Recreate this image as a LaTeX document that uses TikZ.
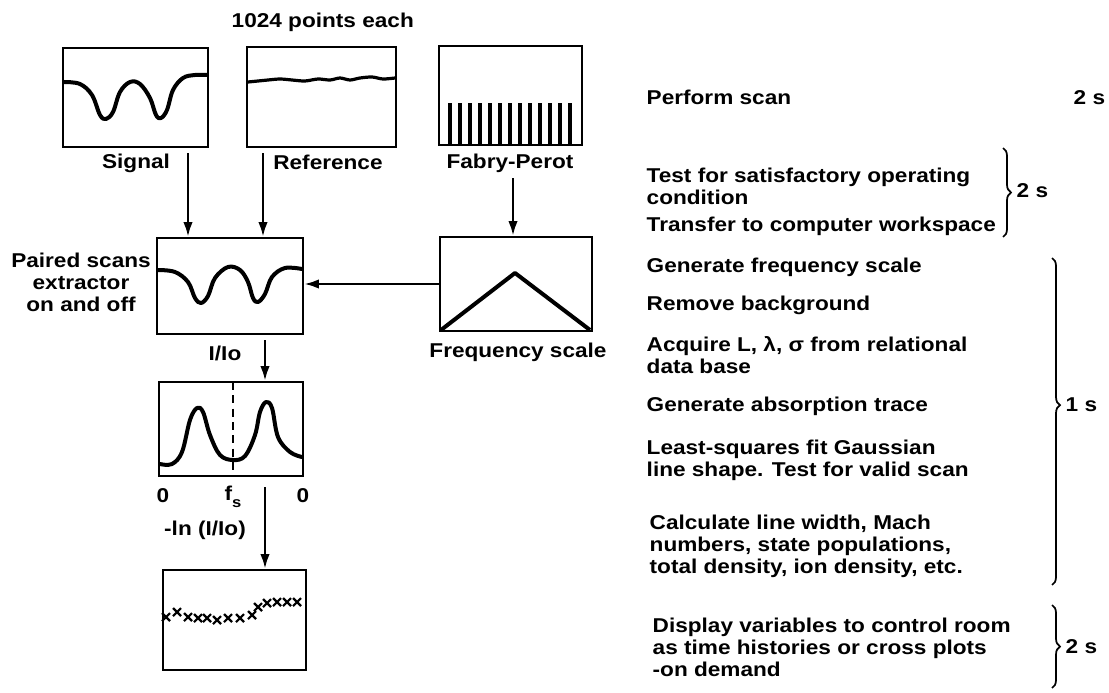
\documentclass[tikz,border=0pt]{standalone}
\usepackage{fontspec}
\setmainfont{Liberation Sans}[FakeStretch=1.13]
\usetikzlibrary{arrows.meta,decorations.pathreplacing}

\begin{document}
\begin{tikzpicture}[x=0.75pt,y=-0.75pt,
	every node/.style={font=\bfseries\fontsize{15}{16.5}\selectfont},
	scopebox/.style={draw,line width=1.8pt,inner sep=0pt},
	trace/.style={line width=3pt,line join=round,line cap=round},
	flow/.style={line width=1.8pt,-{Latex[length=11pt,width=7pt]}},
	timebrace/.style={decorate,decoration={brace,amplitude=6pt},line width=1.3pt}]
	\useasboundingbox (0,0) rectangle (1109,692);

	% scan boxes
	\node[scopebox,minimum width=108.75pt,minimum height=74.25pt] (sigbox) at (135.5,97.5) {};
	\node[scopebox,minimum width=111.75pt,minimum height=75pt] (refbox) at (321.5,97) {};
	\node[scopebox,minimum width=107.25pt,minimum height=74.25pt] (fpbox) at (510.5,95.5) {};
	\node[scopebox,minimum width=109.5pt,minimum height=72pt] (pairbox) at (230,286) {};
	\node[scopebox,minimum width=114pt,minimum height=70.5pt] (freqbox) at (516,284) {};
	\node[scopebox,minimum width=108pt,minimum height=70.5pt] (peakbox) at (231,429) {};
	\node[scopebox,minimum width=107.25pt,minimum height=75pt] (outbox) at (234.5,620) {};

	% traces
	\draw[trace] plot[smooth,tension=0.6] coordinates {(64,82) (80,84) (92,95) (100,115) (106,119) (113,112) (120,92) (130,82) (140,84) (150,98) (156,115) (161,118) (167,110) (173,90) (183,78) (195,75) (207,75)};
	\draw[line width=2.4pt,line join=round] plot[smooth,tension=0.5] coordinates {(248,82) (258,81) (268,80) (280,79) (292,80) (305,81) (318,79) (330,80) (340,78) (350,80) (360,78) (372,77) (383,79) (395,78)};
	\foreach \bx in {450,460,...,570}
		\draw[line width=3.2pt] (\bx,145) -- (\bx,103);
	\draw[trace] plot[smooth,tension=0.6] coordinates {(158,270) (175,272) (188,282) (195,298) (201,303) (208,296) (215,278) (228,267) (240,270) (248,282) (253,298) (258,302) (265,294) (272,277) (285,268) (302,269)};
	\draw[trace,line cap=butt] (441,330) -- (515,273) -- (590,330);
	\draw[trace] plot[smooth,tension=0.6] coordinates {(160,464) (172,464) (182,452) (190,420) (197,408) (203,412) (210,435) (220,455) (233,460) (245,456) (255,435) (260,412) (266,402) (272,408) (278,437) (290,452) (302,457)};
	\draw[line width=1.6pt,dash pattern=on 6pt off 4pt] (233,382) -- (233,476);
	\foreach \cx/\cy in {166/617,177/612,188/617,198/618,207/618,217/620,228/618,240/618,252/615,258/607,267/603,277/602,287/602,297/602}
		\draw[line width=1.6pt] (\cx-4,\cy-4) -- (\cx+4,\cy+4) (\cx-4,\cy+4) -- (\cx+4,\cy-4);

	% labels of the scan boxes
	\node[anchor=west] (points) at (227,22) {1024 points each};
	\node (siglabel) at (136,163) {Signal};
	\node (reflabel) at (328,162) {Reference};
	\node (fplabel) at (510,163) {Fabry-Perot};
	\node[align=center] (pairlabel) at (81,282) {Paired scans\\extractor\\on and off};
	\node (freqlabel) at (518,352) {Frequency scale};
	\node (ratiolabel) at (225,353) {I/Io};
	\node (zeroleft) at (163,496) {0};
	\node (fslabel) at (233,497) {f\raisebox{-0.7ex}{\fontsize{11}{11}\selectfont s}};
	\node (zeroright) at (303,496) {0};
	\node (lnlabel) at (205,530) {-ln (I/Io)};

	% connectors
	\coordinate (sigtail) at (188,153);
	\coordinate (reftail) at (263,153);
	\coordinate (fptail) at (513,178);
	\coordinate (ratiotail) at (265,340);
	\coordinate (lntail) at (265,487);
	\draw[flow] (sigtail) -- (sigtail |- pairbox.north);
	\draw[flow] (reftail) -- (reftail |- pairbox.north);
	\draw[flow] (fptail) -- (fptail |- freqbox.north);
	\draw[flow] (freqbox.west) -- (pairbox.east |- freqbox.west);
	\draw[flow] (ratiotail) -- (ratiotail |- peakbox.north);
	\draw[flow] (lntail) -- (lntail |- outbox.north);

	% processing steps and times
	\node[anchor=west] (scan) at (642,97) {Perform scan};
	\node[anchor=west] (scantime) at (1069,98) {2 s};
	\node[anchor=west,align=left] (test) at (642,186.5) {Test for satisfactory operating\\condition};
	\node[anchor=west] (transfer) at (642,226) {Transfer to computer workspace};
	\node[anchor=west] (genfreq) at (642,267) {Generate frequency scale};
	\node[anchor=west] (remove) at (642,305) {Remove background};
	\node[anchor=west,align=left] (acquire) at (642,355) {Acquire L, λ, σ from relational\\data base};
	\node[anchor=west] (genabs) at (642,406) {Generate absorption trace};
	\node[anchor=west,align=left] (fit) at (642,460) {Least-squares fit Gaussian\\line shape. Test for valid scan};
	\node[anchor=west,align=left] (calc) at (645,546) {Calculate line width, Mach\\numbers, state populations,\\total density, ion density, etc.};
	\node[anchor=west,align=left] (display) at (648,647) {Display variables to control room\\as time histories or cross plots\\-on demand};

	\coordinate (bracetopa) at (1003,148);
	\coordinate (bracebota) at (1003,237);
	\coordinate (bracetopb) at (1052,258);
	\coordinate (bracebotb) at (1052,585);
	\coordinate (bracetopc) at (1052,605);
	\coordinate (bracebotc) at (1052,688);
	\draw[timebrace] (bracetopa) -- (bracebota);
	\draw[timebrace,decoration={aspect=0.45}] (bracetopb) -- (bracebotb);
	\draw[timebrace] (bracetopc) -- (bracebotc);
	\node[anchor=west] (checktime) at (1012,191) {2 s};
	\node[anchor=west] (fittime) at (1061,405) {1 s};
	\node[anchor=west] (displaytime) at (1061,647) {2 s};
\end{tikzpicture}
\end{document}
